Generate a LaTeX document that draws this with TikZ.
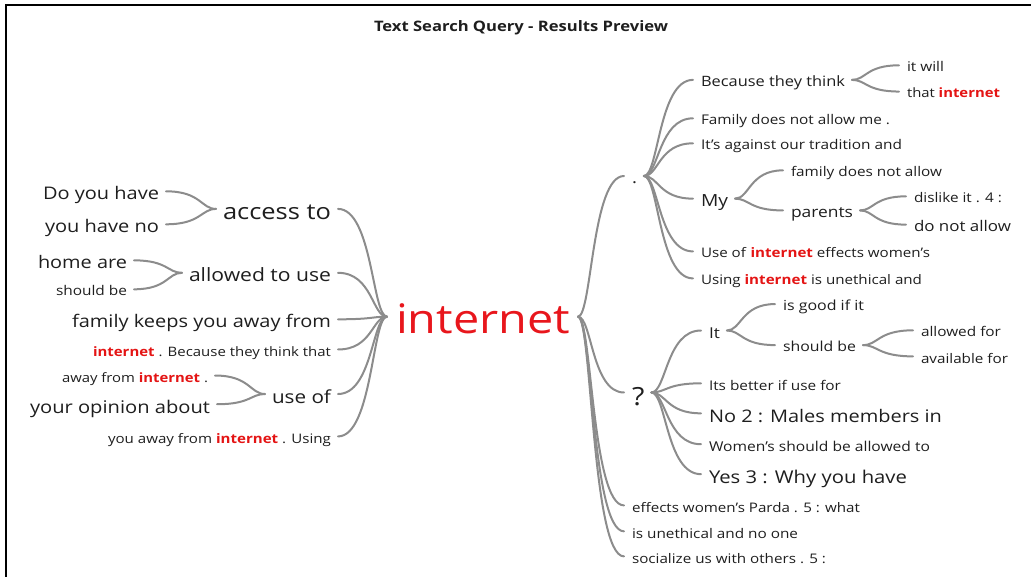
\documentclass[tikz,border=0pt]{standalone}
\usepackage{fontspec}
\setmainfont{Open Sans}[FakeStretch=1.15]
\usetikzlibrary{calc}
\definecolor{txt}{RGB}{30,30,30}
\definecolor{hl}{RGB}{228,20,20}
\definecolor{bigred}{RGB}{232,22,28}
\definecolor{linegray}{RGB}{140,140,140}
\newcommand\rinet{\textbf{\color{hl}internet}}
\newlength\mnlen
\newcommand\mnode[6]{%
  \pgfinterruptpicture\setbox0=\hbox{\normalfont\fontsize{10pt}{12pt}\selectfont #6}\global\mnlen=\wd0\endpgfinterruptpicture
  \pgfmathsetmacro\mnfs{10*#5/\mnlen}%
  \node[#1, font=\fontsize{\mnfs pt}{\mnfs pt}\selectfont, text height=\mnfs pt, text depth=0pt] (#2) at (#3,#4) {#6};}
\newcommand\snode[6]{%
  \node[#1, font=\fontsize{#5pt}{#5pt}\selectfont, text height=#5pt, text depth=0pt] (#2) at (#3,#4) {#6};}
\tikzset{
  lbl/.style={inner sep=0pt, outer sep=0pt, text=txt},
  lft/.style={lbl, anchor=base east},
  rgt/.style={lbl, anchor=base west},
  con/.style={draw=linegray, line width=2pt, line cap=round},
  branch/.style={to path={let \p1=(\tikztostart), \p2=(\tikztotarget), \n1={\x1+0.3*(\x2-\x1)} in .. controls (\n1,\y1) and (\n1,\y2) .. (\tikztotarget)}},
}
\begin{document}
\begin{tikzpicture}[x=1pt,y=-1pt]
\useasboundingbox (0,0) rectangle (1031,577);
\draw[line width=1.6pt, black] (6,577) -- (6,5) -- (1031,5);

% title
\mnode{lbl, anchor=base}{title}{521}{32}{294}{\bfseries Text Search Query - Results Preview}

% centre
\mnode{lbl, anchor=base west, text=bigred}{inet}{396}{334}{174}{internet}

% left level 1
\mnode{lft}{acc}{331}{220}{108}{access to}
\mnode{lft}{allow}{331}{282}{142}{allowed to use}
\mnode{lft}{fam}{331}{328}{259}{family keeps you away from}
\mnode{lft}{becl}{331}{356}{238}{\rinet{} . Because they think that}
\mnode{lft}{useof}{331}{403}{59}{use of}
\mnode{lft}{using}{331}{443}{223}{you away from \rinet{} . Using}

% left level 2
\mnode{lft}{doyou}{159}{200}{116}{Do you have}
\mnode{lft}{haveno}{159}{233}{114}{you have no}
\mnode{lft}{home}{127}{269}{89}{home are}
\mnode{lft}{shouldb}{127}{296}{71}{should be}
\mnode{lft}{awayf}{208}{382}{146}{away from \rinet{} .}
\mnode{lft}{opin}{210}{413}{180}{your opinion about}

% right level 1
\snode{rgt}{dot}{632}{184}{16}{.}
\snode{rgt}{q}{632}{405}{25}{?}
\mnode{rgt}{parda}{632}{512}{228}{effects women’s Parda . 5 : what}
\mnode{rgt}{unethical}{632}{538}{166}{is unethical and no one}
\mnode{rgt}{socialize}{632}{563}{194}{socialize us with others . 5 :}

% children of dot
\mnode{rgt}{because}{701}{87}{144}{Because they think}
\mnode{rgt}{famallow}{701}{125}{189}{Family does not allow me .}
\mnode{rgt}{against}{701}{150}{201}{It’s against our tradition and}
\mnode{rgt}{my}{701}{207}{27}{My}
\mnode{rgt}{useinet}{701}{258}{229}{Use of \rinet{} effects women’s}
\mnode{rgt}{usinginet}{701}{285}{221}{Using \rinet{} is unethical and}

\mnode{rgt}{itwill}{907}{72}{37}{it will}
\mnode{rgt}{thatinet}{907}{98}{93}{that \rinet}
\mnode{rgt}{famnot}{791}{177}{151}{family does not allow}
\mnode{rgt}{parents}{791}{218}{62}{parents}
\mnode{rgt}{dislike}{914}{203}{88}{dislike it . 4 :}
\mnode{rgt}{donot}{914}{232}{97}{do not allow}

% children of ?
\snode{rgt}{it}{709}{338}{15}{It}
\mnode{rgt}{better}{709}{390}{132}{Its better if use for}
\mnode{rgt}{no2}{709}{422}{233}{No 2 : Males members in}
\mnode{rgt}{womens}{709}{451}{221}{Women’s should be allowed to}
\mnode{rgt}{yes3}{709}{483}{198}{Yes 3 : Why you have}
\mnode{rgt}{good}{783}{311}{81}{is good if it}
\mnode{rgt}{shouldbe}{783}{352}{73}{should be}
\mnode{rgt}{allowedfor}{921}{337}{80}{allowed for}
\mnode{rgt}{availfor}{921}{363}{87}{available for}

% left connectors
\foreach \c in {acc,allow,fam,becl,useof,using}
  \draw[con] ([xshift=-9pt,yshift=-3pt]inet.west) to[branch] ([xshift=7pt]\c.east);
\foreach \p/\c in {acc/doyou,acc/haveno,allow/home,allow/shouldb,useof/awayf,useof/opin}
  \draw[con] ([xshift=-7pt]\p.west) to[branch] ([xshift=7pt]\c.east);

% right connectors
\foreach \c in {dot,q,parda,unethical,socialize}
  \draw[con] ([xshift=8pt,yshift=-3pt]inet.east) to[branch] ([xshift=-8pt]\c.west);
\foreach \p/\c in {dot/because,dot/famallow,dot/against,dot/my,dot/useinet,dot/usinginet,
                   because/itwill,because/thatinet,my/famnot,my/parents,parents/dislike,parents/donot,
                   q/it,q/better,q/no2,q/womens,q/yes3,it/good,it/shouldbe,shouldbe/allowedfor,shouldbe/availfor}
  \draw[con] ([xshift=7pt]\p.east) to[branch] ([xshift=-8pt]\c.west);
\end{tikzpicture}
\end{document}
